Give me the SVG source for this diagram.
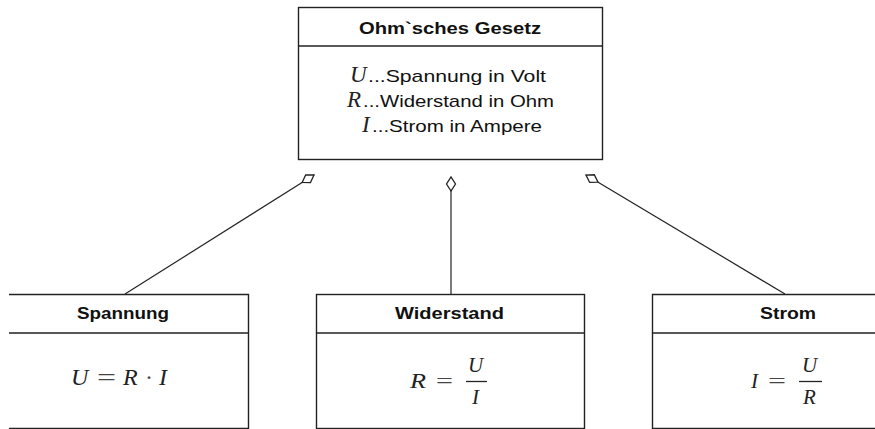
<svg xmlns="http://www.w3.org/2000/svg" width="875" height="429" viewBox="0 0 875 429">
  <style>
    .box { fill: #ffffff; stroke: #222222; stroke-width: 1.4; }
    .edge { fill: none; stroke: #222222; stroke-width: 1.4; }
    .conn { fill: none; stroke: #222222; stroke-width: 1.2; }
    .title { font-family: "Liberation Sans", Arial, sans-serif; font-weight: bold; font-size: 16.5px; fill: #111111; }
    .txt { font-family: "Liberation Sans", Arial, sans-serif; font-size: 17px; fill: #111111; }
    .var { font-family: "Liberation Serif", "Times New Roman", serif; font-style: italic; fill: #222222; }
    .op { font-family: "Liberation Serif", "Times New Roman", serif; fill: #444444; }
    .bar { stroke: #222222; stroke-width: 1.3; }
  </style>
  <defs>
    <marker id="diamond" markerUnits="userSpaceOnUse" markerWidth="18" markerHeight="14" refX="15" refY="6" orient="auto">
      <path d="M1,6 L8,1.5 L15,6 L8,10.5 Z" fill="#ffffff" stroke="#222222" stroke-width="1.3"/>
    </marker>
  </defs>

  <!-- aggregation connectors -->
  <g id="connectors">
    <path class="conn" d="M125,294 L314,175" marker-end="url(#diamond)"/>
    <path class="conn" d="M451,294 L451,177" marker-end="url(#diamond)"/>
    <path class="conn" d="M785,294 L586,175" marker-end="url(#diamond)"/>
  </g>

  <!-- main class -->
  <g id="ohm">
    <rect class="box" x="298.5" y="7.5" width="304" height="152"/>
    <line class="edge" x1="298.5" y1="46" x2="602.5" y2="46"/>
    <text class="title" x="359" y="34" textLength="182" lengthAdjust="spacingAndGlyphs">Ohm`sches Gesetz</text>
    <text class="var" x="350" y="82" font-size="23">U</text>
    <text class="txt" x="368" y="82" textLength="178" lengthAdjust="spacingAndGlyphs">...Spannung in Volt</text>
    <text class="var" x="347" y="106.5" font-size="23">R</text>
    <text class="txt" x="363" y="106.5" textLength="191" lengthAdjust="spacingAndGlyphs">...Widerstand in Ohm</text>
    <text class="var" x="362" y="131.5" font-size="23">I</text>
    <text class="txt" x="372" y="131.5" textLength="170" lengthAdjust="spacingAndGlyphs">...Strom in Ampere</text>
  </g>

  <!-- voltage -->
  <g id="spannung">
    <rect x="9" y="294.5" width="239" height="134" fill="#ffffff"/>
    <path class="edge" d="M9,294.5 H248.5 V428.5 H9 M9,333 H248.5"/>
    <text class="title" x="77" y="319" textLength="92" lengthAdjust="spacingAndGlyphs">Spannung</text>
    <text class="var" x="71" y="385" font-size="24">U</text>
    <text class="op" x="97" y="385" font-size="24" textLength="19" lengthAdjust="spacingAndGlyphs">=</text>
    <text class="var" x="123" y="385" font-size="24">R</text>
    <text class="op" x="145" y="385" font-size="24">·</text>
    <text class="var" x="159" y="385" font-size="24">I</text>
  </g>

  <!-- resistance -->
  <g id="widerstand">
    <rect class="box" x="316.5" y="294.5" width="268" height="134"/>
    <line class="edge" x1="316.5" y1="333" x2="584.5" y2="333"/>
    <text class="title" x="395" y="319" textLength="109" lengthAdjust="spacingAndGlyphs">Widerstand</text>
    <text class="var" x="410" y="388" font-size="21" textLength="16" lengthAdjust="spacingAndGlyphs">R</text>
    <text class="op" x="436" y="388" font-size="21" textLength="17" lengthAdjust="spacingAndGlyphs">=</text>
    <text class="var" x="468" y="372" font-size="21">U</text>
    <line class="bar" x1="466" y1="381.5" x2="487" y2="381.5"/>
    <text class="var" x="472" y="404" font-size="21">I</text>
  </g>

  <!-- current -->
  <g id="strom">
    <rect x="652" y="294.5" width="223" height="134" fill="#ffffff"/>
    <path class="edge" d="M875,294.5 H652.5 V428.5 H875 M652.5,333 H875"/>
    <text class="title" x="760" y="319" textLength="56" lengthAdjust="spacingAndGlyphs">Strom</text>
    <text class="var" x="751" y="388" font-size="21">I</text>
    <text class="op" x="768" y="388" font-size="21" textLength="18" lengthAdjust="spacingAndGlyphs">=</text>
    <text class="var" x="802" y="372" font-size="21">U</text>
    <line class="bar" x1="799" y1="381.5" x2="822" y2="381.5"/>
    <text class="var" x="803" y="404" font-size="21">R</text>
  </g>
</svg>
